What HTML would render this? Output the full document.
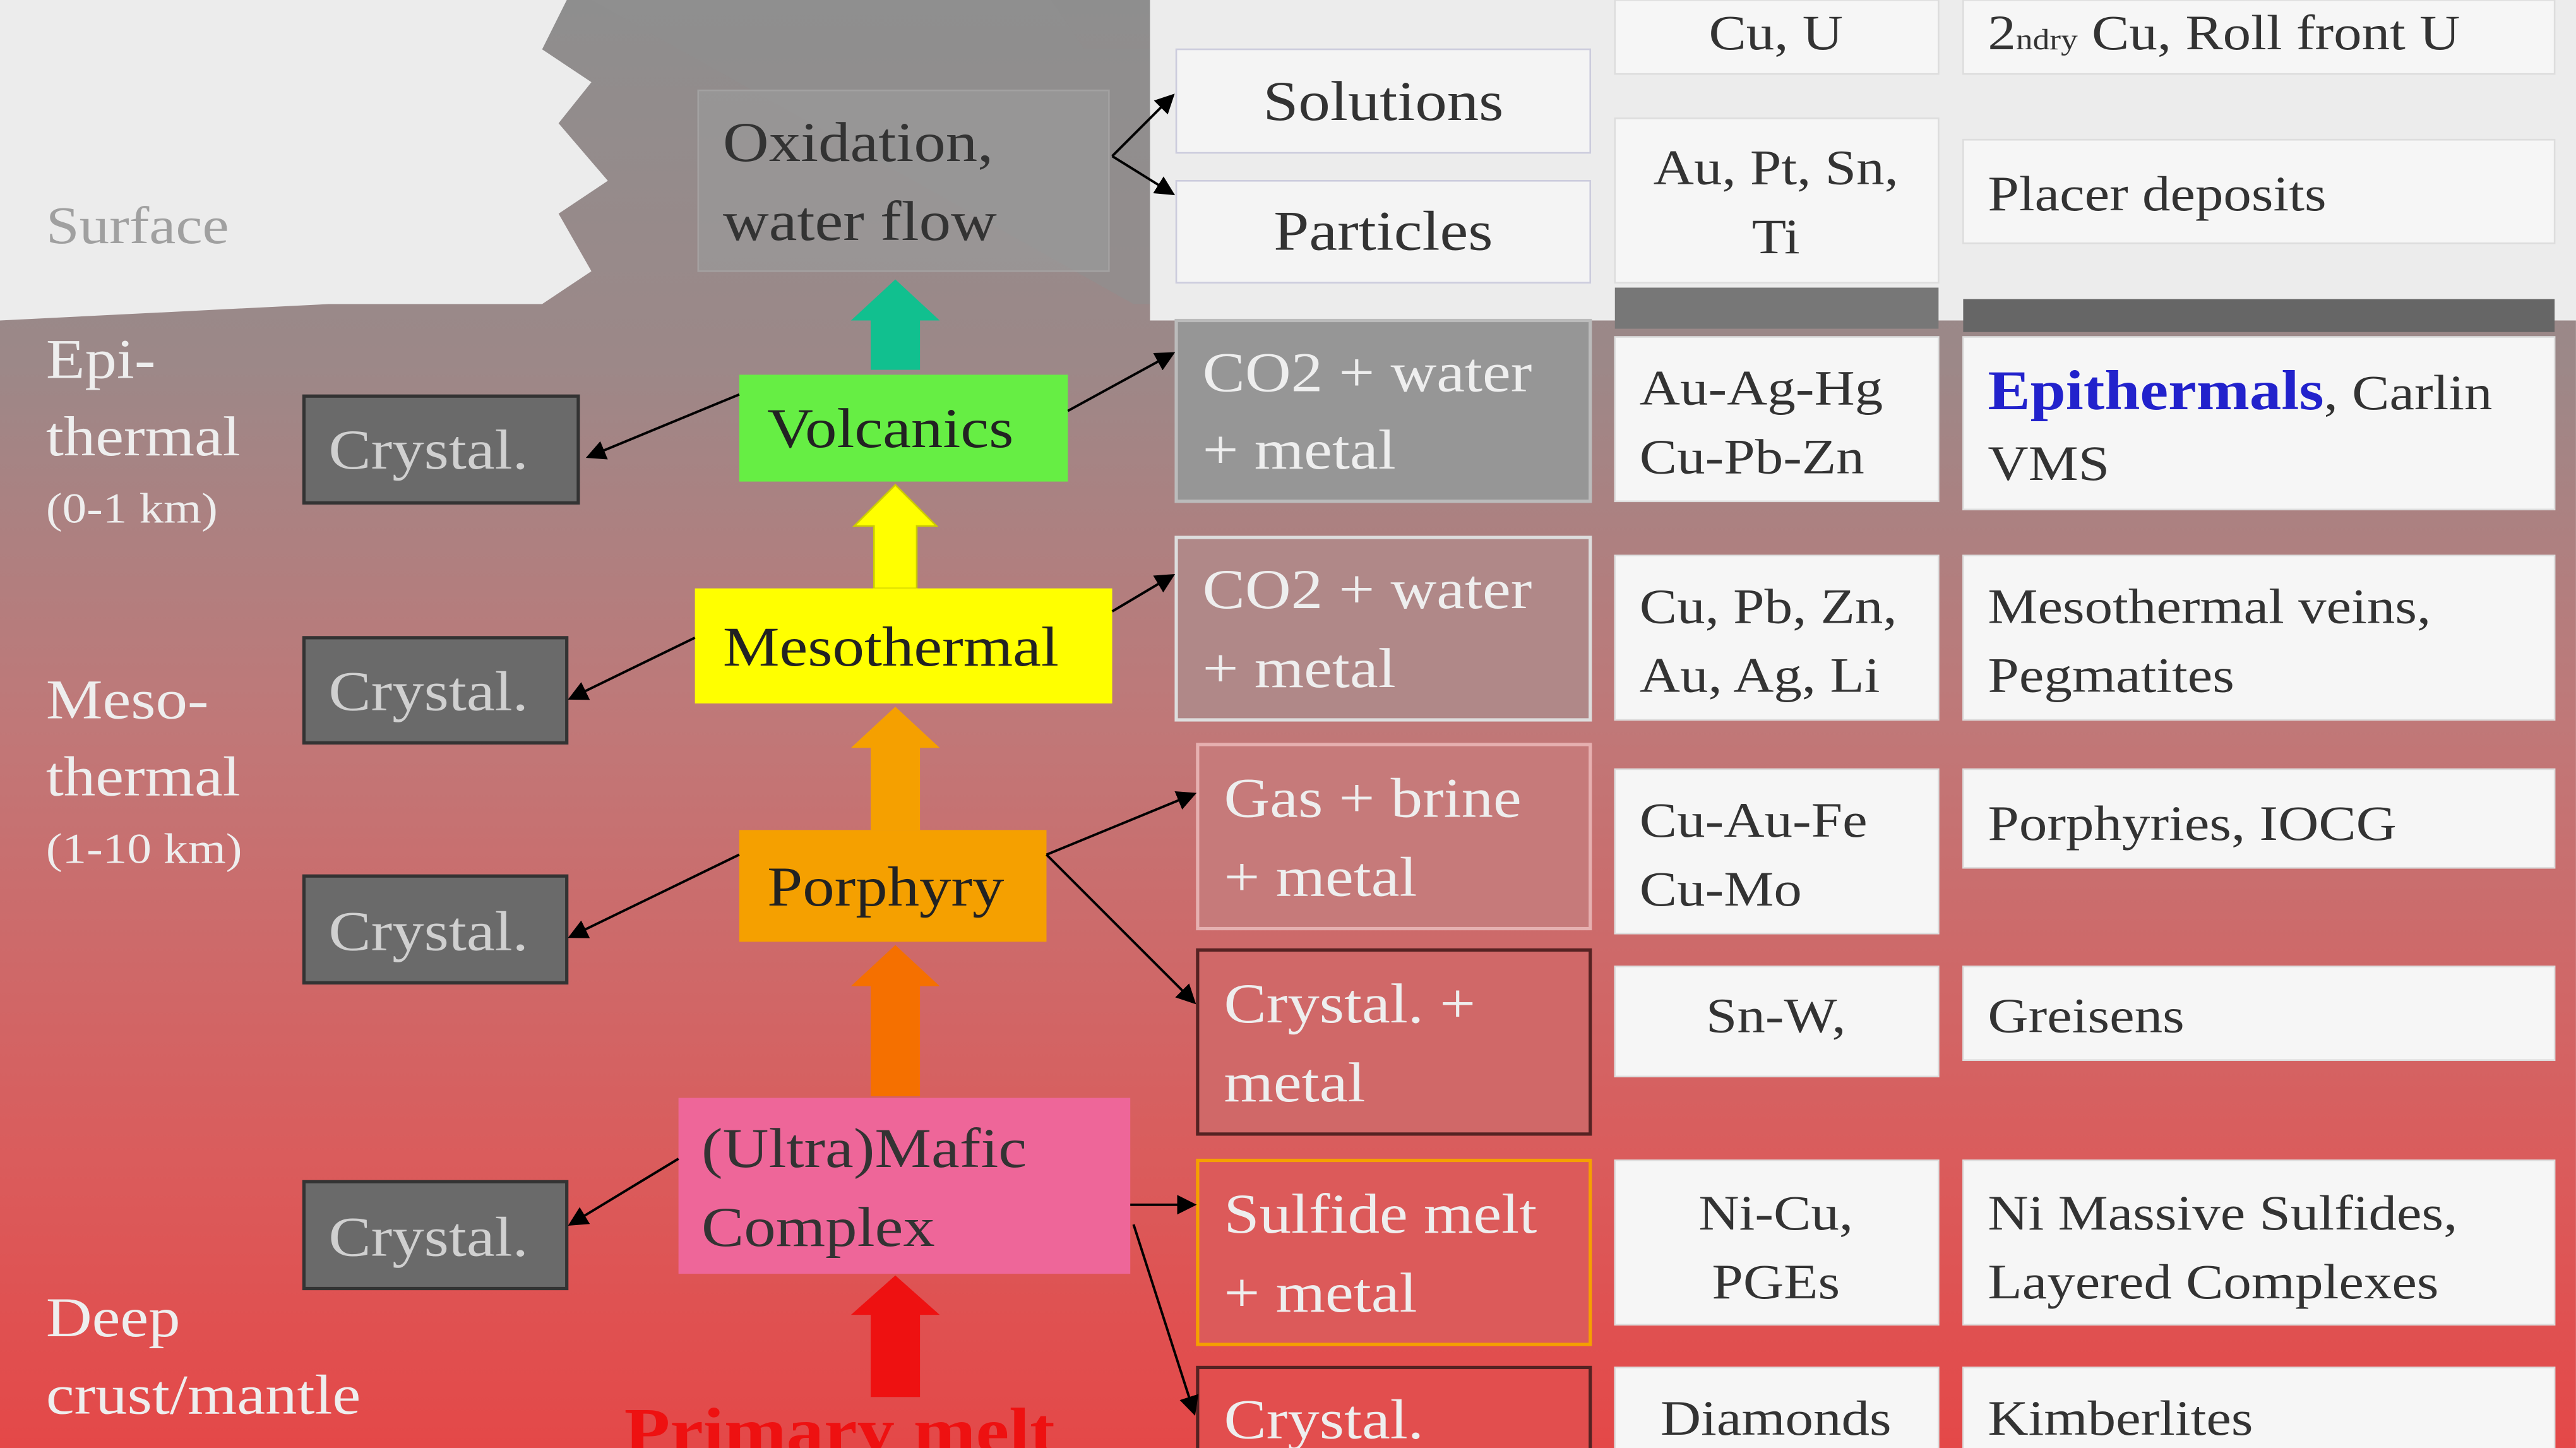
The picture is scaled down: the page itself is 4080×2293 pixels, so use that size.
<!DOCTYPE html>
<html><head><meta charset="utf-8"><style>
html,body{margin:0;padding:0;width:4080px;height:2293px;overflow:hidden;background:#ececec}
#w{width:1568px;height:881px;transform:scale(2.602,2.6027);transform-origin:0 0;position:relative}
svg text{font-family:"Liberation Serif",serif;transform-box:fill-box;transform-origin:0 50%;transform:scaleX(1.14)}
svg text.c{transform-origin:50% 50%}
svg text.n{transform:none}
</style></head><body><div id="w">
<svg width="1568" height="881" viewBox="0 0 1568 881" xmlns="http://www.w3.org/2000/svg">
<defs>
<linearGradient id="g" x1="0" y1="0" x2="0" y2="1">
<stop offset="0" stop-color="#8e8e8e"/>
<stop offset="0.25" stop-color="#9c8888"/>
<stop offset="0.5" stop-color="#c07878"/>
<stop offset="0.8" stop-color="#da5c5c"/>
<stop offset="1" stop-color="#e44848"/>
</linearGradient>
<marker id="a" markerWidth="8" markerHeight="8" refX="7" refY="4" orient="auto"><path d="M0,0 L8,4 L0,8 z" fill="#000"/></marker>
</defs>
<rect x="0" y="0" width="1568" height="881" fill="#ececec"/>
<path d="M0,195 L200,185 L330,185 L360,165 L340,130 L370,110 L340,75 L360,50 L330,30 L345,0 L700,0 L700,195 L1568,195 L1568,881 L0,881 Z" fill="url(#g)"/>
<path d="M360,0 L640,0 L660,30 L700,30 L700,185 L690,185 Z" fill="#8f8f8f" opacity="0.6"/>
<text x="28" y="148" font-size="32" fill="#a0a0a0">Surface</text>
<g font-size="34" fill="#eee">
<text x="28" y="230">Epi-</text><text x="28" y="277">thermal</text><text x="28" y="318" font-size="26">(0-1 km)</text>
<text x="28" y="437">Meso-</text><text x="28" y="484">thermal</text><text x="28" y="525" font-size="26">(1-10 km)</text>
<text x="28" y="813">Deep</text><text x="28" y="860">crust/mantle</text>
</g>
<g fill="#6a6a6a" stroke="#333" stroke-width="2">
<rect x="185" y="241" width="167" height="65"/><rect x="185" y="388" width="160" height="64"/>
<rect x="185" y="533" width="160" height="65"/><rect x="185" y="719" width="160" height="65"/>
</g>
<g font-size="34" fill="#d0d0d0">
<text x="200" y="285">Crystal.</text><text x="200" y="432">Crystal.</text>
<text x="200" y="578">Crystal.</text><text x="200" y="764">Crystal.</text>
</g>
<rect x="425" y="55" width="250" height="110" fill="#9a9a9a" stroke="#aaa" opacity="0.7"/>
<text x="440" y="98" font-size="34" fill="#333">Oxidation,</text><text x="440" y="146" font-size="34" fill="#333">water flow</text>
<path d="M530,225 L530,195 L518,195 L545,170 L572,195 L560,195 L560,225 Z" fill="#11c08f"/>
<path d="M532,358 L532,320 L520,320 L545,295 L570,320 L558,320 L558,358 Z" fill="#ffff00" stroke="#cc0" stroke-width="1"/>
<path d="M530,505 L530,455 L518,455 L545,430 L572,455 L560,455 L560,505 Z" fill="#f5a000"/>
<path d="M530,667 L530,600 L518,600 L545,575 L572,600 L560,600 L560,667 Z" fill="#f57000"/>
<path d="M530,850 L530,800 L518,800 L545,776 L572,800 L560,800 L560,850 Z" fill="#ee1111"/>
<rect x="450" y="228" width="200" height="65" fill="#66ee44"/>
<text x="467" y="272" font-size="34" fill="#222">Volcanics</text>
<rect x="423" y="358" width="254" height="70" fill="#ffff00"/>
<text x="440" y="405" font-size="34" fill="#222">Mesothermal</text>
<rect x="450" y="505" width="187" height="68" fill="#f5a000"/>
<text x="467" y="551" font-size="34" fill="#222">Porphyry</text>
<rect x="413" y="668" width="275" height="107" fill="#ee6699"/>
<text x="427" y="710" font-size="34" fill="#333">(Ultra)Mafic</text><text x="427" y="758" font-size="34" fill="#333">Complex</text>
<text x="380" y="884" font-size="40" font-weight="bold" fill="#ee1111" font-family="Liberation Sans,sans-serif">Primary melt</text>
<g font-size="34">
<rect x="716" y="30" width="252" height="63" fill="#f4f4f4" stroke="#ccd"/>
<text x="842" y="73" class="c" text-anchor="middle" fill="#333">Solutions</text>
<rect x="716" y="110" width="252" height="62" fill="#f4f4f4" stroke="#ccd"/>
<text x="842" y="152" class="c" text-anchor="middle" fill="#333">Particles</text>
<rect x="716" y="195" width="252" height="110" fill="#969696" stroke="#bbb" stroke-width="2"/>
<text x="732" y="238" fill="#eee">CO2 + water</text><text x="732" y="285" fill="#eee">+ metal</text>
<rect x="716" y="327" width="252" height="111" fill="#b08888" stroke="#ddd" stroke-width="2"/>
<text x="732" y="370" fill="#eee">CO2 + water</text><text x="732" y="418" fill="#eee">+ metal</text>
<rect x="729" y="453" width="239" height="112" fill="#c67a7a" stroke="#e6b0b0" stroke-width="2"/>
<text x="745" y="497" fill="#eee">Gas + brine</text><text x="745" y="545" fill="#eee">+ metal</text>
<rect x="729" y="578" width="239" height="112" fill="#d06868" stroke="#552222" stroke-width="2"/>
<text x="745" y="622" fill="#eee">Crystal. +</text><text x="745" y="670" fill="#eee">metal</text>
<rect x="729" y="706" width="239" height="112" fill="#dc5a5a" stroke="#f5a000" stroke-width="2"/>
<text x="745" y="750" fill="#eee">Sulfide melt</text><text x="745" y="798" fill="#eee">+ metal</text>
<rect x="729" y="832" width="239" height="60" fill="#e24e4e" stroke="#552222" stroke-width="2"/>
<text x="745" y="875" fill="#eee">Crystal.</text>
</g>
<g stroke="#000" stroke-width="1.5" fill="none" marker-end="url(#a)">
<path d="M677,95 L714,58"/><path d="M677,95 L714,118"/>
<path d="M450,240 L358,278"/><path d="M423,388 L347,425"/>
<path d="M450,520 L347,570"/><path d="M413,705 L347,745"/>
<path d="M650,250 L714,215"/><path d="M677,372 L714,350"/>
<path d="M637,520 L727,483"/><path d="M637,520 L727,610"/>
<path d="M688,733 L727,733"/><path d="M690,745 L727,860"/>
</g>
<rect x="983" y="175" width="197" height="25" fill="#777"/>
<rect x="1195" y="182" width="360" height="20" fill="#666"/>
<g fill="#f6f6f6" stroke="#ddd">
<rect x="983" y="0" width="197" height="45"/><rect x="983" y="72" width="197" height="100"/>
<rect x="983" y="205" width="197" height="100"/><rect x="983" y="338" width="197" height="100"/>
<rect x="983" y="468" width="197" height="100"/><rect x="983" y="588" width="197" height="67"/>
<rect x="983" y="706" width="197" height="100"/><rect x="983" y="832" width="197" height="60"/>
<rect x="1195" y="0" width="360" height="45"/><rect x="1195" y="85" width="360" height="63"/>
<rect x="1195" y="205" width="360" height="105"/><rect x="1195" y="338" width="360" height="100"/>
<rect x="1195" y="468" width="360" height="60"/><rect x="1195" y="588" width="360" height="57"/>
<rect x="1195" y="706" width="360" height="100"/><rect x="1195" y="832" width="360" height="60"/>
</g>
<g font-size="30" fill="#333">
<text x="1081" y="30" class="c" text-anchor="middle">Cu, U</text>
<text x="1081" y="112" class="c" text-anchor="middle">Au, Pt, Sn,</text><text x="1081" y="154" class="c" text-anchor="middle">Ti</text>
<text x="998" y="246">Au-Ag-Hg</text><text x="998" y="288">Cu-Pb-Zn</text>
<text x="998" y="379">Cu, Pb, Zn,</text><text x="998" y="421">Au, Ag, Li</text>
<text x="998" y="509">Cu-Au-Fe</text><text x="998" y="551">Cu-Mo</text>
<text x="1081" y="628" class="c" text-anchor="middle">Sn-W,</text>
<text x="1081" y="748" class="c" text-anchor="middle">Ni-Cu,</text><text x="1081" y="790" class="c" text-anchor="middle">PGEs</text>
<text x="1081" y="873" class="c" text-anchor="middle">Diamonds</text>
<text x="1210" y="30">2<tspan font-size="18">ndry</tspan> Cu,  Roll front U</text>
<text x="1210" y="128">Placer deposits</text>
<text x="1210" y="249"><tspan fill="#2222cc" font-weight="bold" font-size="34">Epithermals</tspan>, Carlin</text><text x="1210" y="292">VMS</text>
<text x="1210" y="379">Mesothermal  veins,</text><text x="1210" y="421">Pegmatites</text>
<text x="1210" y="511">Porphyries,  IOCG</text>
<text x="1210" y="628">Greisens</text>
<text x="1210" y="748">Ni Massive  Sulfides,</text><text x="1210" y="790">Layered  Complexes</text>
<text x="1210" y="873">Kimberlites</text>
</g>
</svg></div></body></html>
